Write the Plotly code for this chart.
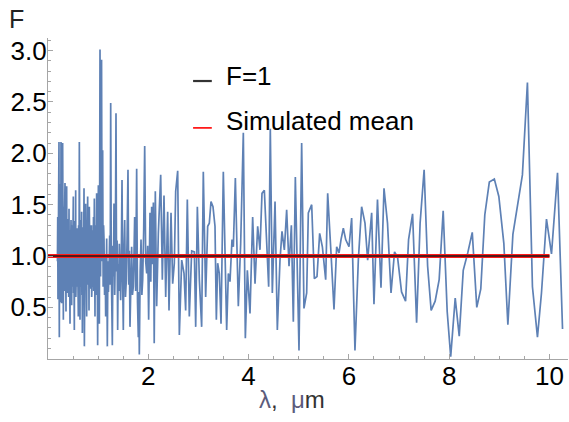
import plotly.graph_objects as go

# ---- data ----
lam_dense = [0.188,0.194,0.199,0.205,0.210,0.215,0.219,0.223,0.226,0.231,0.236,0.241,0.246,0.251,0.255,0.259,
             0.264,0.268,0.272,0.277,0.282,0.287,0.292,0.297,0.301,0.306,0.311,0.316,0.321,0.326,0.330,0.335,
             0.339,0.344,0.349,0.354,0.359,0.363,0.368,0.372,0.377,0.382,0.387,0.392,0.397,0.402,0.407,0.412,
             0.416,0.419,0.424,0.429,0.434,0.439,0.444,0.449,0.454,0.459,0.464,0.468,0.472,0.477,0.482,0.487,
             0.492,0.497,0.501,0.505,0.510,0.515,0.520,0.525,0.530,0.535,0.540,0.545,0.549,0.552,0.555,0.560,
             0.565,0.570,0.575,0.580,0.585,0.590,0.595,0.600,0.605,0.610,0.615,0.620,0.625,0.630,0.634,0.638,
             0.643,0.648,0.653,0.658,0.663,0.667,0.671,0.676,0.681,0.685,0.690,0.695,0.700,0.705,0.709,0.713,
             0.718,0.722,0.725,0.730,0.735,0.740,0.745,0.751,0.756,0.761,0.766,0.771,0.776,0.781,0.786,0.791,
             0.796,0.801,0.806,0.811,0.815,0.818,0.824,0.829,0.834,0.839,0.844,0.849,0.854,0.859,0.864,0.868,
             0.871,0.876,0.881,0.887,0.892,0.897,0.902,0.907,0.912,0.918,0.924,0.930,0.937,0.942,0.947,0.953,
             0.958,0.964,0.970,0.975,0.980,0.985,0.990,0.995,1.000,1.004,1.010,1.015,1.020,1.024,1.030]
F_dense = [0.95,1.38,0.58,1.92,0.72,1.60,2.11,0.65,0.21,1.25,0.78,1.70,0.55,1.45,0.90,2.11,
           0.62,1.15,0.54,1.62,0.88,1.30,2.10,0.74,1.20,0.38,1.48,0.82,1.28,0.66,1.40,0.92,
           1.71,0.70,1.18,0.85,0.46,1.32,0.95,1.68,0.78,1.12,0.72,0.64,1.36,0.88,1.22,0.60,
           1.05,1.46,0.80,1.10,0.68,0.34,1.25,0.90,1.18,1.35,0.75,1.02,0.52,1.30,0.85,1.14,
           0.70,1.20,0.92,1.58,0.64,1.08,0.82,0.28,1.26,0.78,1.34,0.95,0.72,1.64,0.60,1.10,
           0.86,1.22,0.70,1.05,1.27,0.66,1.15,0.82,0.41,1.30,0.90,1.12,2.11,0.75,1.02,0.38,
           1.20,0.86,1.35,0.70,1.08,0.80,1.43,0.62,1.00,0.25,1.15,0.78,1.28,0.92,0.66,1.20,
           1.66,0.60,0.12,1.05,0.82,1.25,0.70,1.51,0.88,1.10,0.62,0.41,1.18,0.92,1.32,1.58,
           0.72,1.05,0.80,1.20,0.66,0.47,1.48,0.85,1.12,0.75,1.30,0.92,0.68,1.15,0.82,1.30,
           0.60,1.08,0.78,1.25,0.70,1.10,0.88,1.38,0.66,1.05,1.56,0.74,0.41,1.20,0.85,1.30,
           0.62,1.12,1.61,0.78,1.15,0.70,0.13,1.25,0.88,1.69,0.72,1.20,0.80,0.34,1.40]

lam_mid = [1.037,1.048,1.058,1.068,1.078,1.090,1.100,1.108,1.117,1.128,1.140,1.150,1.160,1.170,1.176,1.183,
           1.195,1.205,1.216,1.230,1.240,1.250,1.262,1.272,1.283,1.295,1.305,1.316,1.330,1.343,1.356,1.367,
           1.378,1.389,1.400,1.410,1.422,1.435,1.449,1.462,1.476,1.489,1.502,1.515,1.529,1.545,1.562,1.578,
           1.595,1.610,1.622,1.635,1.650,1.668,1.684,1.701,1.715,1.728,1.748,1.768,1.785,1.801,1.810,1.821,
           1.838,1.855,1.872,1.888,1.908,1.928,1.948,1.968,1.988,2.007,2.020,2.034,2.050,2.067,2.085,2.101,
           2.118,2.140,2.167,2.200,2.247,2.280,2.313,2.347,2.386,2.413,2.453,2.486,2.519,2.546,2.586,2.619,
           2.666,2.712,2.745,2.778,2.818,2.865,2.918,2.945,2.978,3.018,3.064,3.097,3.144,3.184,3.217,3.250,
           3.290,3.330,3.357,3.383,3.416,3.450]
F_mid = [3.01,0.80,1.55,2.91,0.95,2.03,0.70,1.30,1.16,0.62,0.98,0.41,1.05,1.17,0.68,0.12,
         0.95,0.65,0.83,1.20,0.72,2.49,0.90,0.55,0.13,1.10,0.80,1.51,0.62,1.05,2.39,0.85,
         1.15,0.28,0.92,0.66,1.12,0.90,0.57,1.00,1.74,0.75,0.28,1.05,1.35,0.60,0.77,1.20,
         1.84,0.72,1.05,0.31,0.90,1.09,0.62,0.70,1.02,1.38,0.66,1.85,0.55,0.21,0.65,0.04,
         0.85,1.16,0.62,0.77,1.25,2.07,0.95,0.83,1.10,0.38,0.90,1.42,0.75,1.48,0.92,1.52,
         0.15,1.63,0.51,1.22,1.79,0.77,1.59,0.60,1.43,0.47,1.42,0.73,0.93,1.63,1.83,0.23,
         0.96,0.83,0.47,1.55,0.41,1.05,1.04,0.31,1.48,0.77,0.31,1.82,0.60,1.29,1.32,1.53,
         1.48,1.29,0.38,0.93,0.83,0.34]

lam_sparse = [3.496,3.563,3.596,3.629,3.669,3.696,3.736,3.795,3.842,3.895,3.935,3.975,4.028,4.081,4.128,4.181,
              4.227,4.267,4.314,4.360,4.400,4.433,4.473,4.527,4.573,4.626,4.666,4.713,4.759,4.806,4.853,4.892,
              4.932,5.005,5.058,5.104,5.158,5.191,5.258,5.311,5.364,5.417,5.471,5.537,5.577,5.643,5.703,5.756,
              5.803,5.843,5.889,5.936,6.002,6.055,6.121,6.188,6.254,6.321,6.374,6.454,
              6.50,6.57,6.64,6.70,6.77,6.84,6.91,6.97,7.05,7.13,7.19,7.27,7.35,7.42,7.50,7.57,
              7.64,7.72,7.80,7.88,7.96,8.03,8.12,8.20,8.28,8.37,8.46,8.55,8.63,8.71,8.80,8.90,
              8.99,9.09,9.17,9.27,9.46,9.56,9.66,9.76,9.84,9.94,10.04,10.16,10.26]
F_sparse = [1.82,0.28,0.83,0.75,1.16,1.09,1.76,0.51,1.12,2.20,0.20,0.86,0.44,1.38,0.73,1.29,
            1.06,1.61,1.64,1.06,0.70,2.24,0.64,1.53,0.28,0.96,1.24,1.06,1.45,0.90,1.30,0.36,
            1.77,0.08,2.10,0.49,0.64,1.42,1.50,0.78,0.80,1.22,1.09,0.77,1.61,1.03,0.48,1.09,
            1.03,1.16,1.27,1.16,1.09,1.37,0.08,0.96,1.48,1.32,0.96,1.42,
            0.53,1.55,0.69,1.66,1.32,0.64,1.04,0.99,0.65,0.56,1.16,1.41,0.35,1.32,1.84,0.90,
            0.47,0.56,0.77,1.44,0.46,0.02,0.59,0.22,0.86,1.03,1.23,0.50,0.68,1.40,1.72,1.75,
            1.58,1.12,0.33,1.21,1.79,2.69,0.70,0.21,0.64,1.36,1.02,1.81,0.29]

lam = lam_dense + lam_mid + lam_sparse
F = F_dense + F_mid + F_sparse

ref_x = [0, 10]
F_one = [1.0, 1.0]
F_mean = [1.0, 1.0]

ytick_vals = [0.5, 1.0, 1.5, 2.0, 2.5, 3.0]
ytick_text = ["0.5", "1.0", "1.5", "2.0", "2.5", "3.0"]
xtick_vals = [2, 4, 6, 8, 10]
xtick_text = ["2", "4", "6", "8", "10"]

FONT = "Liberation Sans, Arial, sans-serif"
AXC = "#a6a6a6"

fig = go.Figure()
fig.add_trace(go.Scatter(x=lam, y=F, mode="lines",
                         line=dict(color="#5E81B5", width=1.7), showlegend=False))
fig.add_trace(go.Scatter(x=ref_x, y=F_mean, mode="lines",
                         line=dict(color="#ff1a1a", width=4), showlegend=False))
fig.add_trace(go.Scatter(x=ref_x, y=F_one, mode="lines",
                         line=dict(color="#1a1a1a", width=1.6), showlegend=False))

# legend marks
fig.add_shape(type="line", xref="paper", yref="paper", x0=0.279, x1=0.315, y0=0.866, y1=0.866,
              line=dict(color="#333333", width=2.2))
fig.add_shape(type="line", xref="paper", yref="paper", x0=0.279, x1=0.315, y0=0.720, y1=0.720,
              line=dict(color="#ff1a1a", width=1.8))
fig.add_annotation(xref="paper", yref="paper", x=0.338, y=0.882, text="F=1", showarrow=False,
                   xanchor="left", yanchor="middle", font=dict(family=FONT, size=26, color="black"))
fig.add_annotation(xref="paper", yref="paper", x=0.338, y=0.741, text="Simulated mean", showarrow=False,
                   xanchor="left", yanchor="middle", font=dict(family=FONT, size=26, color="black"))
# axis labels
fig.add_annotation(xref="paper", yref="paper", x=-0.0615, y=1.060, text="F", showarrow=False,
                   xanchor="center", yanchor="middle", font=dict(family=FONT, size=25, color="#222222"))
fig.add_annotation(xref="paper", yref="paper", x=0.469, y=-0.125,
                   text="<span style='color:#5c5c7c'>λ</span>,  <span style='color:#5c5c7c'>μ</span>m",
                   showarrow=False, xanchor="center", yanchor="middle",
                   font=dict(family=FONT, size=24, color="#333333"))

fig.update_layout(
    width=569, height=422,
    margin=dict(l=48, r=1, t=38, b=63, autoexpand=False),
    paper_bgcolor="white", plot_bgcolor="white",
    xaxis=dict(range=[0, 10.369], automargin=False, showgrid=False, zeroline=False, showline=True,
               linecolor=AXC, linewidth=1.2,
               tickvals=xtick_vals, ticktext=xtick_text, ticks="inside", ticklen=5, tickcolor=AXC,
               tickfont=dict(family=FONT, size=26, color="black"), ticklabelstandoff=-6,
               minor=dict(dtick=0.5, tick0=0, ticks="inside", ticklen=3, tickcolor=AXC)),
    yaxis=dict(range=[-0.003, 3.123], automargin=False, showgrid=False, zeroline=False, showline=True,
               linecolor=AXC, linewidth=1.2,
               tickvals=ytick_vals, ticktext=ytick_text, ticks="inside", ticklen=5, tickcolor=AXC,
               tickfont=dict(family=FONT, size=26, color="black"), ticklabelstandoff=-5,
               minor=dict(dtick=0.1, tick0=0, ticks="inside", ticklen=3, tickcolor=AXC)),
)

fig.write_html("out.html", config={"displayModeBar": False},
               post_script="document.body.style.margin='0px';document.body.style.overflow='hidden';")
